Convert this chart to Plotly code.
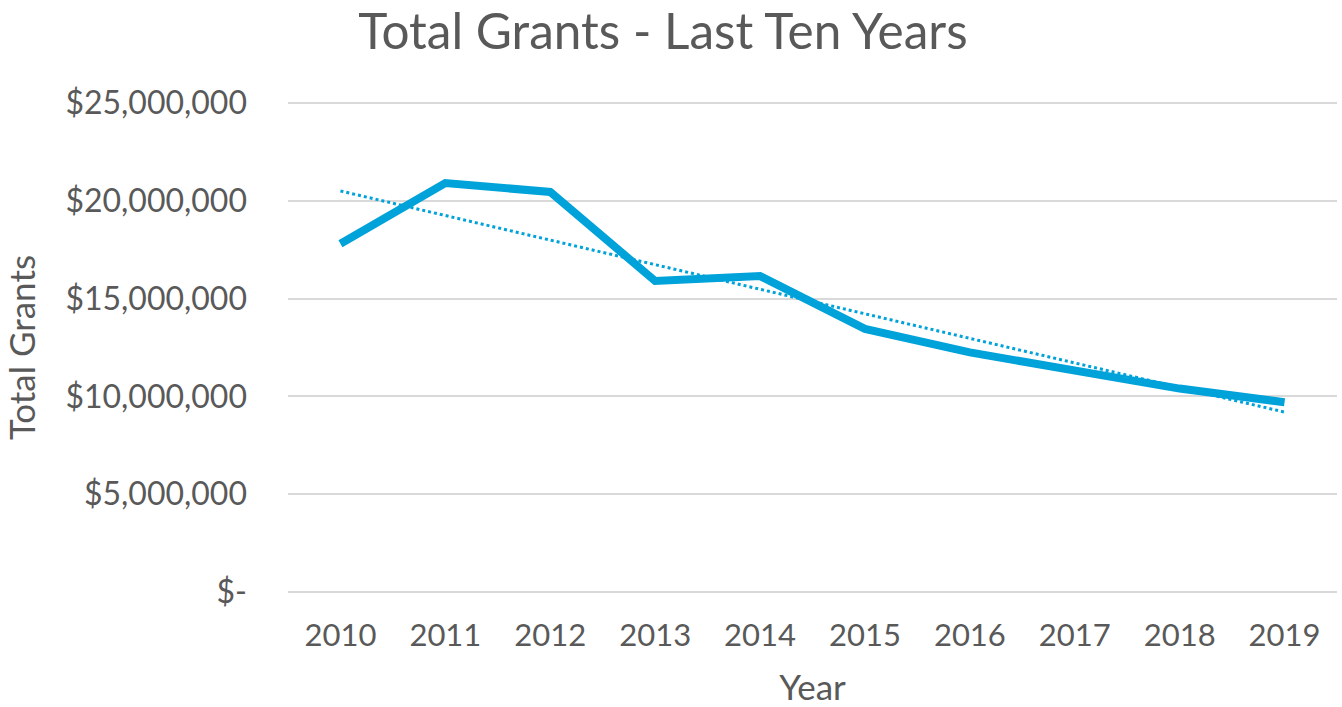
import plotly.graph_objects as go

years = ["2010", "2011", "2012", "2013", "2014", "2015", "2016", "2017", "2018", "2019"]
total_grants = [17.8e6, 20.9e6, 20.45e6, 15.9e6, 16.15e6, 13.45e6, 12.25e6, 11.3e6, 10.4e6, 9.7e6]
trend_years = ["2010", "2019"]
trend_values = [20.5e6, 9.2e6]
y_tick_vals = [0, 5e6, 10e6, 15e6, 20e6, 25e6]
y_tick_text = ["$-", "$5,000,000", "$10,000,000", "$15,000,000", "$20,000,000", "$25,000,000"]

blue = "#00A2DA"
grey = "#595959"
font = "Lato, 'Open Sans', sans-serif"

fig = go.Figure()
fig.add_trace(go.Scatter(x=years, y=total_grants, mode="lines",
                         line=dict(color=blue, width=8), showlegend=False))
fig.add_trace(go.Scatter(x=trend_years, y=trend_values, mode="lines",
                         line=dict(color=blue, width=3, dash="dot"), showlegend=False))

fig.update_layout(
    width=1342, height=707,
    margin=dict(l=288, r=5, t=98, b=110),
    paper_bgcolor="white", plot_bgcolor="white",
    font=dict(family=font, color=grey),
    title=dict(text="Total Grants - Last Ten Years", x=0.494, xanchor="center",
               y=0.955, yanchor="middle", font=dict(size=49.5, color=grey, family=font)),
)
fig.update_xaxes(type="category", range=[-0.5, 9.5], showgrid=False, zeroline=False,
                 showline=False, ticks="", ticklabelstandoff=17, automargin=False,
                 tickfont=dict(size=31, color=grey),
                 title=dict(text="Year", font=dict(size=35, color=grey), standoff=30))
fig.update_yaxes(range=[-0.25e6, 25.25e6], tickvals=y_tick_vals, ticktext=y_tick_text,
                 showgrid=True, gridcolor="#D9D9D9", gridwidth=2, zeroline=False,
                 showline=False, ticks="", ticklabelstandoff=40, automargin=False,
                 tickfont=dict(size=32, color=grey),
                 title=dict(text="Total Grants", font=dict(size=35, color=grey), standoff=22))

fig.write_html("out.html", config={"displayModeBar": False},
               post_script="document.body.style.margin='0';")
